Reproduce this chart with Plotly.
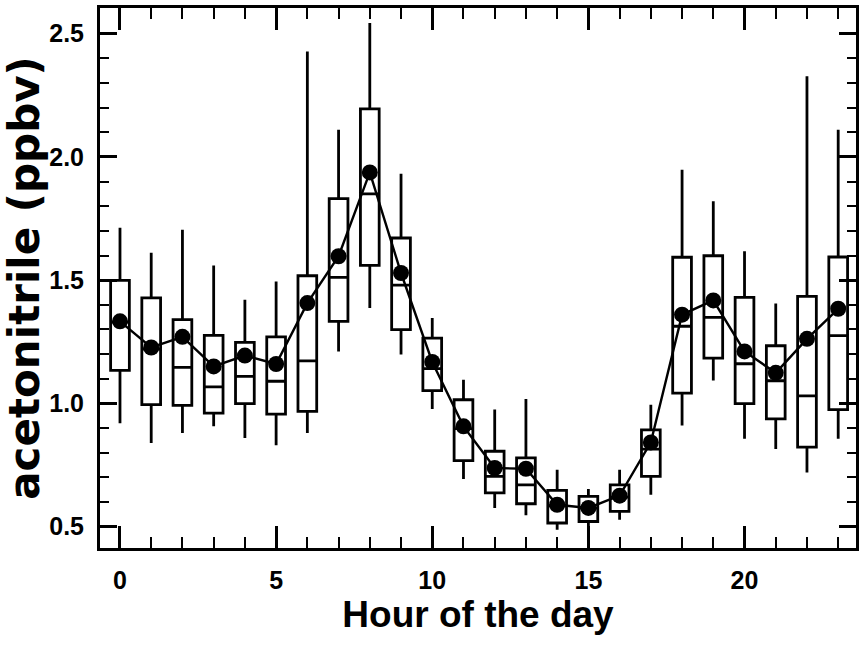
import plotly.graph_objects as go

# Hourly acetonitrile statistics (ppbv)
hours = list(range(24))
mean_vals = [1.333, 1.227, 1.27, 1.15, 1.194, 1.16, 1.407, 1.597, 1.937, 1.529,
             1.168, 0.907, 0.738, 0.735, 0.589, 0.576, 0.626, 0.842, 1.36, 1.418,
             1.211, 1.124, 1.262, 1.384]
median_vals = [1.33, 1.22, 1.146, 1.067, 1.11, 1.09, 1.173, 1.511, 1.85, 1.48,
               1.141, 0.898, 0.704, 0.670, 0.585, 0.575, 0.62, 0.815, 1.313, 1.349,
               1.161, 1.092, 1.031, 1.275]
q1_vals = [1.134, 0.995, 0.992, 0.961, 0.999, 0.957, 0.968, 1.333, 1.56, 1.299,
           1.052, 0.768, 0.637, 0.593, 0.515, 0.521, 0.562, 0.704, 1.042, 1.184,
           0.999, 0.937, 0.823, 0.975]
q3_vals = [1.499, 1.428, 1.34, 1.276, 1.248, 1.27, 1.518, 1.831, 2.195, 1.671,
           1.265, 1.015, 0.806, 0.779, 0.647, 0.623, 0.670, 0.893, 1.593, 1.599,
           1.43, 1.234, 1.434, 1.594]
low_vals = [0.92, 0.84, 0.88, 0.907, 0.86, 0.83, 0.88, 1.211, 1.387, 1.198,
            0.977, 0.693, 0.576, 0.546, 0.488, 0.44, 0.528, 0.63, 0.91, 1.093,
            0.857, 0.815, 0.72, 0.857]
high_vals = [1.713, 1.611, 1.705, 1.56, 1.421, 1.495, 2.428, 2.11, 2.543, 1.932,
             1.347, 1.096, 0.975, 1.018, 0.731, 0.653, 0.731, 0.995, 1.948, 1.82,
             1.617, 1.405, 2.327, 2.11]
x_tick_vals = [0, 5, 10, 15, 20]

SANS = "Liberation Sans, Arial, sans-serif"

fig = go.Figure()

# Box-and-whisker per hour (precomputed quartiles and whisker ends)
fig.add_trace(go.Box(
    x=hours,
    q1=q1_vals,
    median=median_vals,
    q3=q3_vals,
    lowerfence=low_vals,
    upperfence=high_vals,
    width=0.6,
    whiskerwidth=0,
    boxpoints=False,
    fillcolor="white",
    line=dict(color="black", width=2.8),
    showlegend=False,
))

# Hourly means joined by a line
fig.add_trace(go.Scatter(
    x=hours,
    y=mean_vals,
    mode="lines+markers",
    line=dict(color="black", width=2.4),
    marker=dict(color="black", size=16),
    showlegend=False,
))

fig.update_layout(
    width=860,
    height=646,
    margin=dict(l=100, r=1, t=8, b=98),
    paper_bgcolor="white",
    plot_bgcolor="white",
    xaxis=dict(
        range=[-0.64, 23.57],
        tickmode="array",
        tickvals=x_tick_vals,
        ticks="inside",
        ticklen=22,
        tickwidth=2.5,
        tickcolor="black",
        showline=True,
        linewidth=3,
        linecolor="black",
        mirror="allticks",
        showgrid=False,
        zeroline=False,
        minor=dict(dtick=1, tick0=0, ticks="inside", ticklen=11,
                   tickwidth=2.2, tickcolor="black", showgrid=False),
        tickfont=dict(family=SANS, size=25, color="black", weight="bold"),
        ticklabelstandoff=8,
        title=dict(text="Hour of the day", standoff=0,
                   font=dict(family=SANS, size=37, color="black", weight="bold")),
    ),
    yaxis=dict(
        range=[0.4136, 2.604],
        tick0=0.5,
        dtick=0.5,
        tickformat=".1f",
        ticks="inside",
        ticklen=17,
        tickwidth=2.5,
        tickcolor="black",
        showline=True,
        linewidth=3,
        linecolor="black",
        mirror="allticks",
        showgrid=False,
        zeroline=False,
        minor=dict(dtick=0.1, tick0=0.5, ticks="inside", ticklen=9,
                   tickwidth=2.2, tickcolor="black", showgrid=False),
        tickfont=dict(family=SANS, size=25, color="black", weight="bold"),
        ticklabelstandoff=8,
        title=dict(text="acetonitrile (ppbv)", standoff=8,
                   font=dict(family="DejaVu Sans, sans-serif", size=42,
                             color="black", weight="bold")),
    ),
)

fig.write_html("out.html")
